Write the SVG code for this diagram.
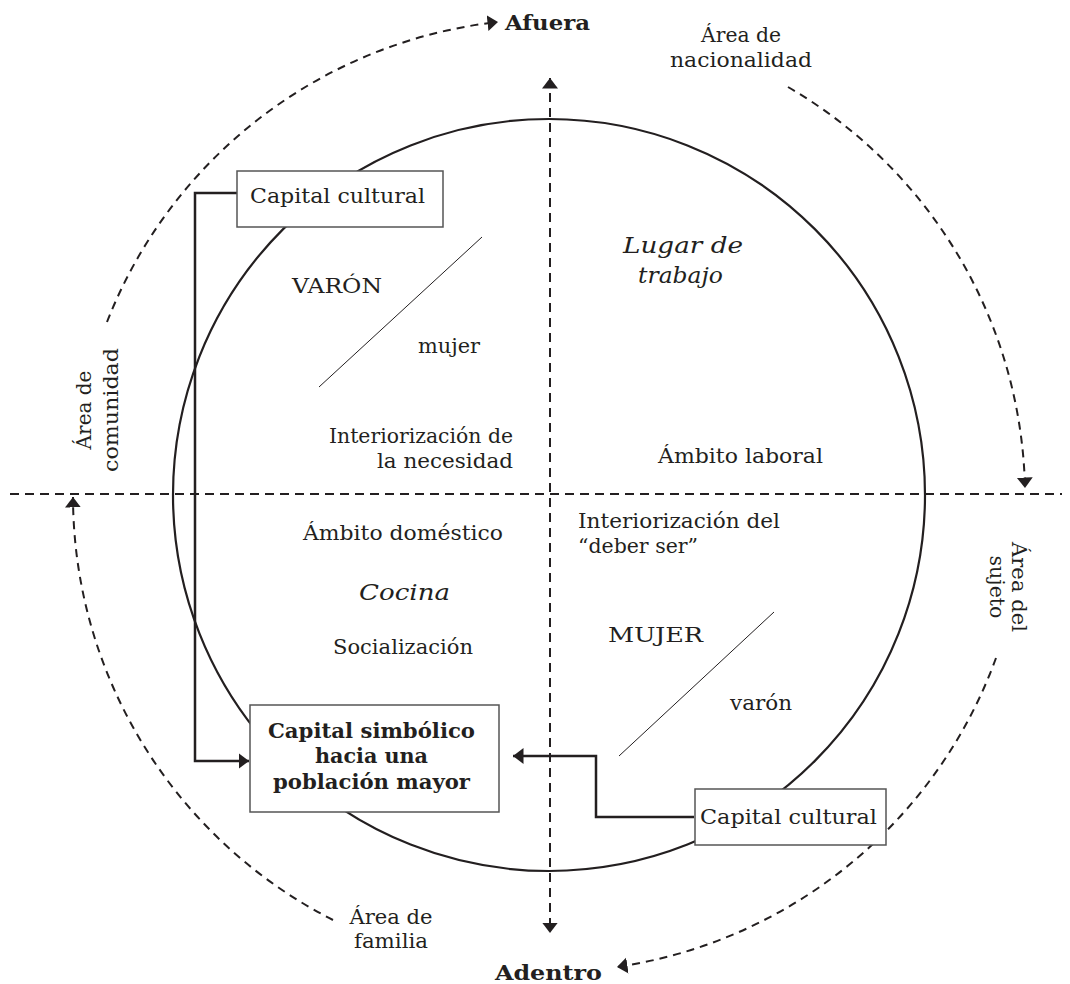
<svg xmlns="http://www.w3.org/2000/svg" width="1070" height="984" viewBox="0 0 1070 984">
<style>
.t{font-family:"DejaVu Serif","Liberation Serif",serif;font-size:20px;fill:#231f20}
.i{font-style:italic;font-size:22px}
.b{font-weight:bold}
.box{fill:#fff;stroke:#555;stroke-width:1.5}
.axis{fill:none;stroke:#231f20;stroke-width:2;stroke-dasharray:9 6}
.arc{fill:none;stroke:#231f20;stroke-width:2;stroke-dasharray:8 6}
.conn{fill:none;stroke:#231f20;stroke-width:2.5}
.thin{stroke:#231f20;stroke-width:1}
</style>
<defs>
<marker id="ah" markerUnits="userSpaceOnUse" viewBox="0 -9 11 18" markerWidth="11" markerHeight="18" refX="10.5" refY="0" orient="auto-start-reverse">
<path d="M0,-8 L10.5,0 L0,8 z" fill="#231f20"/>
</marker>
</defs>
<rect width="1070" height="984" fill="#fff"/>
<g id="circle"><circle cx="549" cy="495" r="376" fill="none" stroke="#231f20" stroke-width="2.2"/></g>
<g id="connectors">
<line class="axis" x1="10" y1="494" x2="1062" y2="494"/>
<line class="axis" x1="550" y1="78" x2="550" y2="933" marker-start="url(#ah)" marker-end="url(#ah)"/>
<path class="arc" d="M107,322 A476,476 0 0 1 498,22" marker-end="url(#ah)"/>
<path class="arc" d="M788,87 A476,476 0 0 1 1025,488" marker-end="url(#ah)"/>
<path class="arc" d="M996,658 A477,477 0 0 1 617,967" marker-end="url(#ah)"/>
<path class="arc" d="M333,920 A476,476 0 0 1 73,497" marker-end="url(#ah)"/>
<polyline class="conn" points="237,193 195,193 195,761 249,761" marker-end="url(#ah)"/>
<polyline class="conn" points="694,817 596,817 596,756 513,756" marker-end="url(#ah)"/>
<line class="thin" x1="319" y1="387" x2="482" y2="237"/>
<line class="thin" x1="619" y1="756" x2="774" y2="612"/>
</g>
<g id="afuera"><text class="t b" x="505" y="30" font-size="22" textLength="85" lengthAdjust="spacingAndGlyphs">Afuera</text></g>
<g id="adentro"><text class="t b" x="495" y="980" font-size="22" textLength="107" lengthAdjust="spacingAndGlyphs">Adentro</text></g>
<g id="area-nacionalidad"><text class="t" x="741" y="42" text-anchor="middle" textLength="80" lengthAdjust="spacingAndGlyphs">Área de</text><text class="t" x="741" y="67" text-anchor="middle" textLength="142" lengthAdjust="spacingAndGlyphs">nacionalidad</text></g>
<g id="area-comunidad" transform="translate(91,410) rotate(-90)"><text class="t" x="0" y="0" text-anchor="middle">Área de</text><text class="t" x="0" y="27" text-anchor="middle" textLength="124" lengthAdjust="spacingAndGlyphs">comunidad</text></g>
<g id="area-sujeto" transform="translate(1012,587) rotate(90)"><text class="t" x="0" y="0" text-anchor="middle" textLength="90" lengthAdjust="spacingAndGlyphs">Área del</text><text class="t" x="0" y="22" text-anchor="middle" textLength="63" lengthAdjust="spacingAndGlyphs">sujeto</text></g>
<g id="area-familia"><text class="t" x="391" y="924" text-anchor="middle" textLength="83" lengthAdjust="spacingAndGlyphs">Área de</text><text class="t" x="391" y="948" text-anchor="middle" textLength="74" lengthAdjust="spacingAndGlyphs">familia</text></g>
<g id="capital-cultural-1"><rect class="box" x="237" y="171" width="206" height="56"/><text class="t" x="250" y="203" font-size="21" textLength="175" lengthAdjust="spacingAndGlyphs">Capital cultural</text></g>
<g id="capital-cultural-2"><rect class="box" x="695" y="789" width="191" height="56"/><text class="t" x="700" y="824" font-size="21" textLength="177" lengthAdjust="spacingAndGlyphs">Capital cultural</text></g>
<g id="capital-simbolico"><rect class="box" x="250" y="705" width="249" height="107"/>
<text class="t b" x="268" y="738" textLength="207" lengthAdjust="spacingAndGlyphs">Capital simbólico</text>
<text class="t b" x="315" y="763" textLength="113" lengthAdjust="spacingAndGlyphs">hacia una</text>
<text class="t b" x="273" y="789" textLength="197" lengthAdjust="spacingAndGlyphs">población mayor</text></g>
<g id="lugar-trabajo"><text class="t i" x="623" y="253" textLength="120" lengthAdjust="spacingAndGlyphs">Lugar de</text><text class="t i" x="638" y="283" textLength="85" lengthAdjust="spacingAndGlyphs">trabajo</text></g>
<g id="varon"><text class="t" x="292" y="293" font-size="21" textLength="90" lengthAdjust="spacingAndGlyphs">VARÓN</text></g>
<g id="mujer"><text class="t" x="418" y="353" textLength="62" lengthAdjust="spacingAndGlyphs">mujer</text></g>
<g id="int-necesidad"><text class="t" x="329" y="443" textLength="184" lengthAdjust="spacingAndGlyphs">Interiorización de</text><text class="t" x="377" y="468" textLength="136" lengthAdjust="spacingAndGlyphs">la necesidad</text></g>
<g id="ambito-laboral"><text class="t" x="658" y="463" textLength="165" lengthAdjust="spacingAndGlyphs">Ámbito laboral</text></g>
<g id="ambito-domestico"><text class="t" x="303" y="540" textLength="200" lengthAdjust="spacingAndGlyphs">Ámbito doméstico</text></g>
<g id="int-deber"><text class="t" x="578" y="528" textLength="202" lengthAdjust="spacingAndGlyphs">Interiorización del</text><text class="t" x="578" y="553" textLength="120" lengthAdjust="spacingAndGlyphs">“deber ser”</text></g>
<g id="cocina"><text class="t i" x="359" y="600" textLength="91" lengthAdjust="spacingAndGlyphs">Cocina</text></g>
<g id="socializacion"><text class="t" x="333" y="654" textLength="140" lengthAdjust="spacingAndGlyphs">Socialización</text></g>
<g id="mujer-caps"><text class="t" x="608" y="642" font-size="21" textLength="95" lengthAdjust="spacingAndGlyphs">MUJER</text></g>
<g id="varon-min"><text class="t" x="730" y="710" textLength="62" lengthAdjust="spacingAndGlyphs">varón</text></g>
</svg>
